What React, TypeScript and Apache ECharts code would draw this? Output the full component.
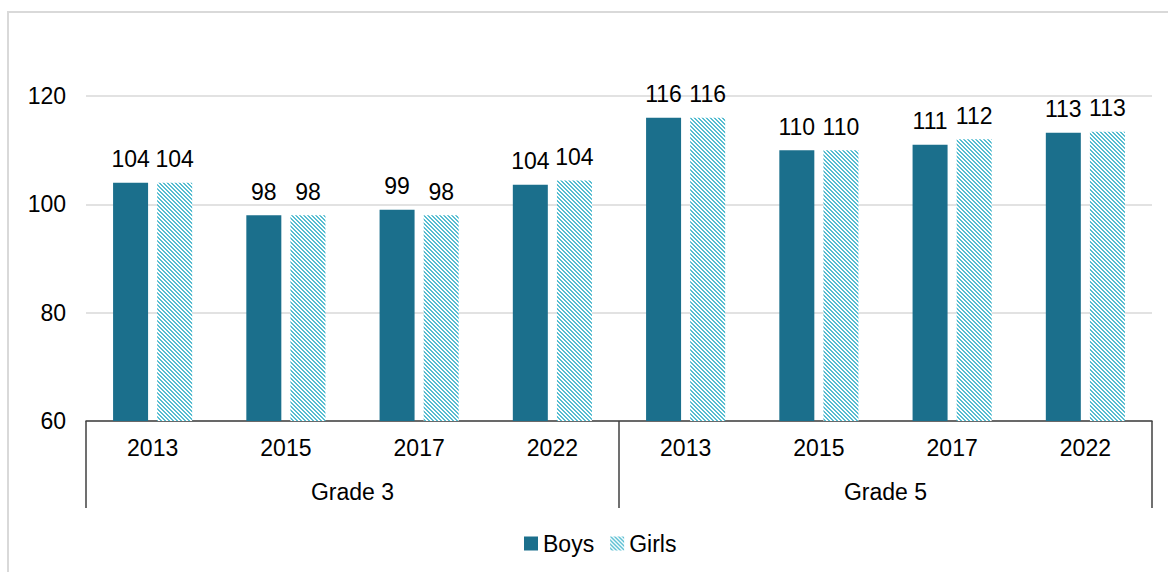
import React, { useEffect, useRef } from "react";
import * as echarts from "echarts";

const years = ["2013", "2015", "2017", "2022", "2013", "2015", "2017", "2022"];
const grades = ["Grade 3", "Grade 5"];
const boys = [104, 98, 99, 103.6, 116, 110, 111, 113.2];
const girls = [104, 98, 98, 104.4, 116, 110, 112, 113.4];
const yTicks = [60, 80, 100, 120];

const BOYS_COLOR = "#1b6f8c";
const GIRLS_COLOR = "#56bdd1";

function makeStripe(): HTMLCanvasElement {
  const c = document.createElement("canvas");
  c.width = 4;
  c.height = 4;
  const ctx = c.getContext("2d")!;
  ctx.fillStyle = "#ffffff";
  ctx.fillRect(0, 0, 4, 4);
  ctx.fillStyle = GIRLS_COLOR;
  for (let y = 0; y < 4; y++) {
    for (let x = 0; x < 4; x++) {
      if ((((x - y) % 4) + 4) % 4 < 2) ctx.fillRect(x, y, 1, 1);
    }
  }
  return c;
}

export default function App() {
  const ref = useRef<HTMLDivElement>(null);
  useEffect(() => {
    if (!ref.current) return;
    const chart = echarts.init(ref.current, undefined, { renderer: "svg" });
    const pattern = { image: makeStripe(), repeat: "repeat" } as any;
    const font = "Liberation Sans, Arial, sans-serif";
    const FS = 23;
    chart.setOption({
      animation: false,
      backgroundColor: "transparent",
      textStyle: { fontFamily: font },
      grid: { left: 86, right: 16, top: 96, bottom: 151, containLabel: false },
      legend: {
        left: 519,
        top: 527,
        itemWidth: 14,
        itemHeight: 14,
        itemGap: 16,
        icon: "rect",
        textStyle: { fontSize: FS, color: "#000", fontFamily: font },
        data: [
          { name: "Boys", itemStyle: { color: BOYS_COLOR } },
          { name: "Girls", itemStyle: { color: pattern } },
        ],
      },
      xAxis: [
        {
          type: "category",
          data: years,
          position: "bottom",
          axisLine: { show: true, lineStyle: { color: "#404040", width: 1.5 } },
          axisTick: { show: false },
          axisLabel: { fontSize: FS, color: "#000", margin: 15, interval: 0, fontFamily: font },
        },
        {
          type: "category",
          data: grades,
          position: "bottom",
          axisLine: { show: false },
          axisTick: { show: true, length: 87, lineStyle: { color: "#404040", width: 1.5 } },
          axisLabel: { fontSize: FS, color: "#000", margin: 59, fontFamily: font },
        },
      ],
      yAxis: {
        type: "value",
        min: yTicks[0],
        max: yTicks[yTicks.length - 1],
        interval: 20,
        axisLine: { show: false },
        axisTick: { show: false },
        splitLine: { lineStyle: { color: "#d9d9d9", width: 1.5 } },
        axisLabel: { fontSize: FS, color: "#000", margin: 20, fontFamily: font },
      },
      series: [
        {
          name: "Boys",
          type: "bar",
          xAxisIndex: 0,
          data: boys,
          barWidth: 35,
          barGap: "26%",
          itemStyle: { color: BOYS_COLOR },
          label: {
            show: true,
            position: "top",
            distance: 12,
            fontSize: FS,
            color: "#000",
            fontFamily: font,
            formatter: (p: any) => String(Math.round(p.value)),
          },
        },
        {
          name: "Girls",
          type: "bar",
          xAxisIndex: 0,
          data: girls,
          barWidth: 35,
          itemStyle: { color: pattern },
          label: {
            show: true,
            position: "top",
            distance: 12,
            fontSize: FS,
            color: "#000",
            fontFamily: font,
            formatter: (p: any) => String(Math.round(p.value)),
          },
        },
      ],
    });
    return () => chart.dispose();
  }, []);
  return (
    <div style={{ position: "absolute", left: 0, top: 0, width: 1168, height: 572, overflow: "hidden", background: "#fff" }}>
      <div
        style={{
          position: "absolute",
          left: 7,
          top: 11,
          width: 1250,
          height: 700,
          border: "2px solid #d9d9d9",
        }}
      />
      <div ref={ref} style={{ position: "absolute", left: 0, top: 0, width: 1168, height: 572 }} />
    </div>
  );
}
